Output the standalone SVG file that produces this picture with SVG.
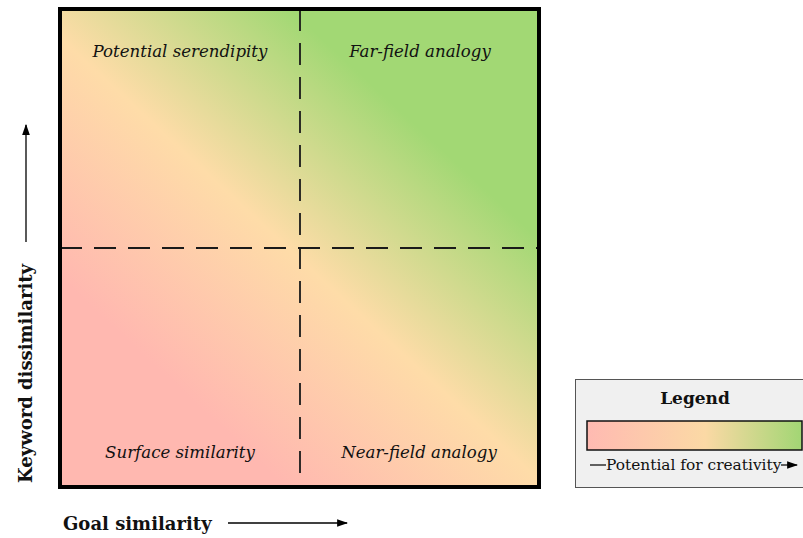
<svg xmlns="http://www.w3.org/2000/svg" width="803" height="538" viewBox="0 0 803 538">
  <defs>
    <!-- diagonal creativity gradient across the quadrant chart -->
    <linearGradient id="quadGrad" gradientUnits="userSpaceOnUse" x1="170" y1="380" x2="410" y2="120">
      <stop offset="0" stop-color="#ffb8b0"/>
      <stop offset="0.5" stop-color="#fedca8"/>
      <stop offset="1" stop-color="#a2d874"/>
    </linearGradient>
    <linearGradient id="legendGrad" x1="0" y1="0" x2="1" y2="0">
      <stop offset="0" stop-color="#ffbab2"/>
      <stop offset="0.55" stop-color="#fbd9a5"/>
      <stop offset="1" stop-color="#a2d674"/>
    </linearGradient>
    <marker id="arrow" viewBox="0 0 10 10" refX="9" refY="5" markerWidth="11" markerHeight="11" markerUnits="userSpaceOnUse" orient="auto">
      <path d="M0,1.5 L10,5 L0,8.5 z" fill="#000"/>
    </marker>
  </defs>
  <style>
    .quad { font-family: "DejaVu Serif", "Liberation Serif", serif; font-style: italic; font-size: 16.6px; fill: #111; text-anchor: middle; }
    .axis { font-family: "DejaVu Serif", "Liberation Serif", serif; font-weight: bold; font-size: 18px; fill: #111; }
    .divider { stroke: #1a1a1a; stroke-width: 1.8; stroke-dasharray: 22 12; fill: none; }
    .axisline { stroke: #000; stroke-width: 1.3; fill: none; marker-end: url(#arrow); }
  </style>

  <!-- chart area -->
  <g id="chart">
    <rect x="60" y="9" width="479" height="478" fill="url(#quadGrad)"/>
  </g>

  <g id="dividers">
    <line class="divider" x1="300" y1="9" x2="300" y2="487"/>
    <line class="divider" x1="60" y1="248" x2="539" y2="248"/>
  </g>

  <g id="chart-border">
    <rect x="60" y="9" width="479" height="478" fill="none" stroke="#000" stroke-width="4"/>
  </g>

  <g id="q-serendipity"><text class="quad" x="180" y="57">Potential serendipity</text></g>
  <g id="q-farfield"><text class="quad" x="420" y="57">Far-field analogy</text></g>
  <g id="q-surface"><text class="quad" x="180" y="458">Surface similarity</text></g>
  <g id="q-nearfield"><text class="quad" x="419" y="458">Near-field analogy</text></g>

  <!-- axes -->
  <g id="x-axis">
    <text class="axis" x="63" y="530">Goal similarity</text>
    <line class="axisline" x1="228" y1="523" x2="347" y2="523"/>
  </g>
  <g id="y-axis">
    <text class="axis" transform="translate(32,483) rotate(-90)">Keyword dissimilarity</text>
    <line class="axisline" x1="26" y1="242" x2="26" y2="125"/>
  </g>

  <!-- legend -->
  <g id="legend">
    <rect x="575.5" y="379.5" width="230" height="108" fill="#f0f0f0" stroke="#555" stroke-width="1"/>
    <text x="695" y="404" font-family="DejaVu Serif, Liberation Serif, serif" font-weight="bold" font-size="17" text-anchor="middle" fill="#111">Legend</text>
    <rect x="587" y="421" width="215" height="29" fill="url(#legendGrad)" stroke="#111" stroke-width="1.5"/>
    <line x1="590" y1="465" x2="606" y2="465" stroke="#000" stroke-width="1.2"/>
    <text x="606" y="470" font-family="DejaVu Serif, Liberation Serif, serif" font-size="15.4" fill="#111">Potential for creativity</text>
    <line x1="781" y1="465" x2="797" y2="465" stroke="#000" stroke-width="1.2" marker-end="url(#arrow)"/>
  </g>
</svg>
